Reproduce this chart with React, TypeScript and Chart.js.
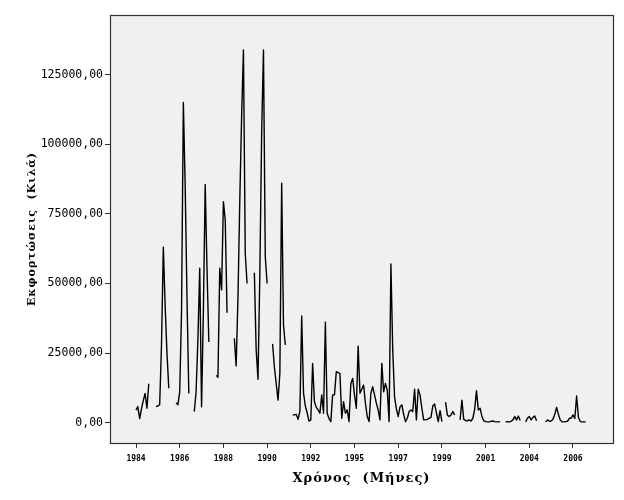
import React, { useEffect, useRef } from "react";
import { Chart, registerables } from "chart.js";

Chart.register(...registerables);

// Monthly exports (kg); null = missing month (gap in line)
const exportsKg: (number | null)[] = [
  4500, 5800, 1500, 5000, 8000, 10500, 5200, 14000, null, null,
  null, 5800, 6000, 6500, 28000, 63000, 42000, 25000, 12400, null,
  null, null, 7200, 6400, 11100, 40000, 115000, 85000, 45000, 10500,
  null, null, 4000, 11100, 30000, 55500, 5700, 40000, 85600, 55000,
  29000, null, null, null, 17000, 16300, 55500, 47700, 79400, 72800,
  39500, null, null, null, 30300, 20400, 45000, 80000, 110000, 133900,
  60800, 50000, null, null, null, 53900, 26100, 15600, 53000, 104000,
  133900, 59600, 50000, null, null, 28300, 20000, 14000, 8100, 17700,
  86000, 35100, 27900, null, null, null, 2800, 2800, 3000, 1200,
  4000, 38300, 10600, 6000, 3500, 600, 1000, 21300, 7500, 5500,
  4600, 3400, 10000, 3400, 36100, 3400, 1500, 400, 10000, 10000,
  18300, 18000, 17700, 1600, 7500, 3400, 4600, 400, 14100, 15900,
  10000, 5200, 27500, 10600, 12000, 13500, 7000, 2200, 400, 10600,
  12900, 10000, 7000, 4600, 1000, 21300, 11100, 14100, 11700, 400,
  57000, 26100, 9300, 5000, 2200, 5700, 6400, 3000, 400, 1600,
  4000, 4600, 4000, 12000, 1000, 12000, 10000, 5200, 1000, 1000,
  1200, 1600, 1900, 6000, 6700, 3500, 400, 4300, 400, null,
  7400, 2800, 2200, 2800, 4000, 2800, null, null, 1000, 8100,
  1200, 800, 700, 1000, 600, 1600, 4800, 11500, 4600, 5200,
  2200, 700, 400, 300, 300, 500, 600, 400, 300, 300,
  400, null, null, 300, 400, 300, 500, 1000, 2200, 1000,
  2400, 800, null, null, 300, 1600, 2200, 1000, 1900, 2400,
  700, null, null, null, null, 300, 1000, 500, 600, 1200,
  3000, 5500, 3000, 1000, 300, 300, 400, 500, 1600, 1600,
  2800, 1500, 9600, 1900, 400, 300, 300, 300,
];

const yearTicks = ["1984", "1986", "1988", "1990", "1992", "1995", "1997", "1999", "2001", "2004", "2006"];
const monthsPerTick = 24;
const yTickValues = [0, 25000, 50000, 75000, 100000, 125000];

const yTitle = "Εκφορτώσεις  (Κιλά)";
const xTitle = "Χρόνος  (Μήνες)";

export default function App() {
  const ref = useRef<HTMLCanvasElement | null>(null);

  useEffect(() => {
    if (!ref.current) return;
    const frame = {
      id: "frame",
      beforeDraw(chart: any) {
        const { ctx, chartArea: a } = chart;
        ctx.save();
        ctx.fillStyle = "#f0f0f0";
        ctx.fillRect(a.left, a.top, a.right - a.left, a.bottom - a.top);
        ctx.restore();
      },
      afterDraw(chart: any) {
        const { ctx, chartArea: a } = chart;
        ctx.save();
        ctx.strokeStyle = "#333";
        ctx.lineWidth = 1.2;
        ctx.strokeRect(a.left + 0.5, a.top + 0.5, a.right - a.left, a.bottom - a.top);
        ctx.fillStyle = "#000";
        ctx.textAlign = "center";
        ctx.textBaseline = "middle";
        try { (ctx as any).letterSpacing = "1px"; } catch (e) {}
        ctx.font = "bold 13px 'DejaVu Serif'";
        ctx.fillText(xTitle, (a.left + a.right) / 2, 479);
        ctx.translate(32, (a.top + a.bottom) / 2);
        ctx.rotate(-Math.PI / 2);
        ctx.font = "bold 11px 'DejaVu Serif'";
        ctx.fillText(yTitle, 0, 0);
        ctx.restore();
      },
    };

    const chart = new Chart(ref.current, {
      type: "line",
      data: {
        datasets: [
          {
            data: exportsKg.map((v, i) => ({ x: i, y: v })) as any,
            borderColor: "#000",
            borderWidth: 1.4,
            borderJoinStyle: "round",
            pointRadius: 0,
            tension: 0,
            spanGaps: false,
            fill: false,
          },
        ],
      },
      options: {
        animation: false,
        responsive: false,
        layout: { padding: { top: 15, right: 11, left: 0, bottom: 0 } },
        plugins: { legend: { display: false }, tooltip: { enabled: false } },
        scales: {
          x: {
            type: "linear",
            min: -14.29,
            max: 261.98,
            border: { display: false },
            grid: { display: true, drawOnChartArea: false, drawTicks: true, tickLength: 5, color: "#333" },
            afterBuildTicks: (scale: any) => {
              scale.ticks = yearTicks.map((_, k) => ({ value: k * monthsPerTick }));
            },
            afterFit: (scale: any) => {
              scale.height = 57;
            },
            ticks: {
              autoSkip: false,
              maxRotation: 0,
              padding: 6,
              color: "#000",
              font: { family: "DejaVu Sans Mono", size: 8, weight: "bold" },
              callback: (value: any) => yearTicks[Math.round(Number(value) / monthsPerTick)],
            },
          },
          y: {
            type: "linear",
            min: -7292,
            max: 146445,
            border: { display: false },
            grid: { display: true, drawOnChartArea: false, drawTicks: true, tickLength: 5, color: "#333" },
            afterBuildTicks: (scale: any) => {
              scale.ticks = yTickValues.map((v) => ({ value: v }));
            },
            afterFit: (scale: any) => {
              scale.width = 110;
            },
            ticks: {
              padding: 2,
              color: "#000",
              font: { family: "DejaVu Sans Mono", size: 11.5 },
              callback: (value: any) => Number(value).toFixed(2).replace(".", ","),
            },
          },
        },
      },
      plugins: [frame],
    });
    return () => chart.destroy();
  }, []);

  return (
    <div style={{ position: "fixed", left: 0, top: 0, width: 624, height: 500, background: "#fff" }}>
      <canvas ref={ref} width={624} height={500} />
    </div>
  );
}
